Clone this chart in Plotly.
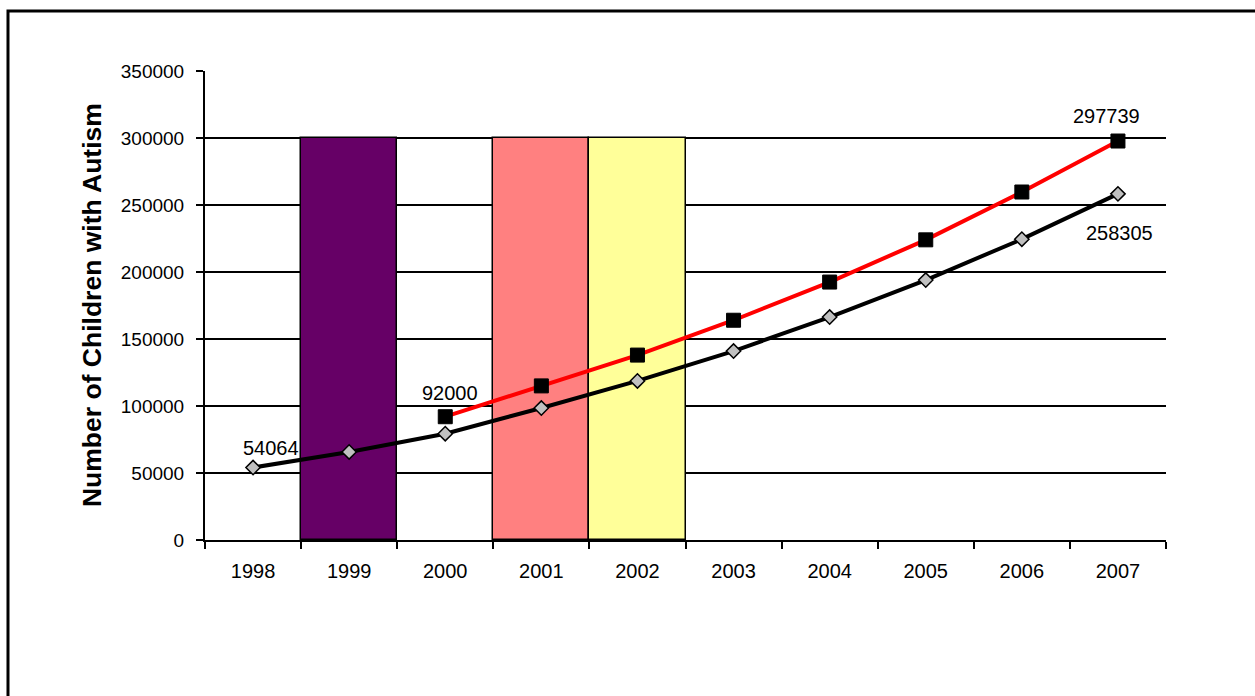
import plotly.graph_objects as go

years = ["1998", "1999", "2000", "2001", "2002", "2003", "2004", "2005", "2006", "2007"]
bar_years = ["1999", "2001", "2002"]
bar_values = [300000, 300000, 300000]
bar_colors = ["#660066", "#FF8080", "#FFFF99"]

black_series = [54064, 65700, 79300, 98500, 118700, 141000, 166400, 194000, 224500, 258305]
red_series = [None, None, 92000, 115000, 138000, 164000, 192500, 224000, 259700, 297739]

label_years = ["1998", "2000", "2007", "2007"]
label_values = [54064, 92000, 297739, 258305]

fig = go.Figure()
fig.add_trace(go.Bar(
    x=bar_years, y=bar_values, width=1,
    marker=dict(color=bar_colors, line=dict(color="black", width=1.5)),
    showlegend=False, hoverinfo="skip",
))
fig.add_trace(go.Scatter(
    x=years, y=black_series, mode="lines+markers",
    line=dict(color="black", width=4),
    marker=dict(symbol="diamond", size=11, color="#C0C0C0", line=dict(color="black", width=1.5)),
    showlegend=False,
))
fig.add_trace(go.Scatter(
    x=years, y=red_series, mode="lines+markers",
    line=dict(color="#FF0000", width=4),
    marker=dict(symbol="square", size=14, color="black", line=dict(color="black", width=1)),
    showlegend=False, connectgaps=False,
))

shifts = [(18, 20), (5, 24), (-11, 25), (2, -39)]
for yr, v, (dx, dy) in zip(label_years, label_values, shifts):
    fig.add_annotation(x=years.index(yr), y=v, xref="x", yref="y", text=str(v), showarrow=False,
                       xshift=dx, yshift=dy,
                       font=dict(family="Liberation Sans, Arial", size=20, color="black"))

fig.add_annotation(x=-0.1176, y=0.501, xref="paper", yref="paper",
                   text="<b>Number of Children with Autism</b>", textangle=-90, showarrow=False,
                   xanchor="center", yanchor="middle",
                   font=dict(family="Liberation Sans, Arial", size=26.5, color="black"))

fig.add_shape(type="rect", xref="paper", yref="paper", x0=-0.205, x1=1.2, y0=-0.5, y1=1.128,
              line=dict(color="black", width=3), fillcolor="rgba(0,0,0,0)", layer="above")

fig.update_layout(
    width=1255, height=696,
    margin=dict(l=205, r=89, t=71, b=156, pad=0),
    paper_bgcolor="white", plot_bgcolor="white",
    bargap=0,
    font=dict(family="Liberation Sans, Arial", color="black"),
    xaxis=dict(type="category", categoryorder="array", categoryarray=years,
               range=[-0.5, 9.5], tickson="boundaries", ticks="outside", ticklen=7,
               tickwidth=1.5, tickcolor="black", showline=True, linecolor="black", linewidth=2,
               showgrid=False, tickfont=dict(size=20), ticklabelstandoff=12, fixedrange=True),
    yaxis=dict(range=[0, 350000], dtick=50000, ticks="outside", ticklen=7, tickwidth=1.5,
               tickcolor="black", showline=True, linecolor="black", linewidth=2,
               showgrid=True, gridcolor="black", gridwidth=1.5, zeroline=False,
               tickfont=dict(size=19), tickformat="d", ticklabelstandoff=8, fixedrange=True),
)

fig.write_html("out.html")
